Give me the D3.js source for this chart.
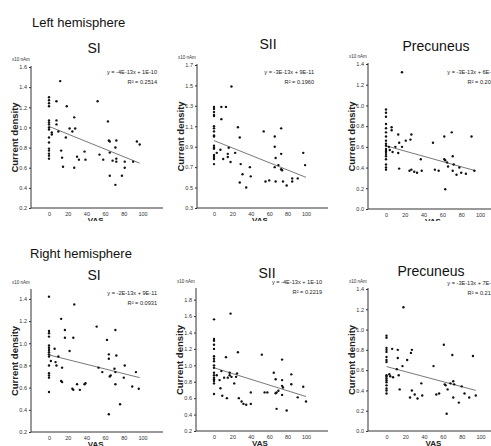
<!DOCTYPE html>
<html>
<head>
<meta charset="utf-8">
<script src="https://cdn.jsdelivr.net/npm/d3@7"></script>
<style>
  body { margin: 0; background: #fff; }
  svg { display: block; font-family: "Liberation Sans", Arial, sans-serif; }
</style>
</head>
<body>
<script>
// values (VAS, current density x10 nAm)
const leftSI = [
  [0,1.30],[0,1.27],[0,1.24],[0,1.21],[0,1.07],[0,1.05],[0,1.03],[0,1.00],[0,0.98],
  [0,0.90],[0,0.85],[0,0.79],[0,0.77],[0,0.74],[0,0.72],[0,0.69],[3,0.95],[3,0.93],
  [8,1.26],[8,1.07],[8,1.03],[10,0.96],[12,1.46],[13,0.77],[14,0.70],[15,0.61],
  [18,0.90],[19,1.21],[22,0.99],[25,0.96],[27,1.10],[28,0.99],[27,0.60],[30,0.71],
  [32,0.68],[38,0.76],[39,0.68],[52,1.26],[54,0.73],[58,0.68],[63,1.06],[64,0.87],
  [65,0.86],[65,0.75],[65,0.52],[68,0.67],[71,0.80],[72,0.87],[72,0.69],[72,0.66],
  [71,0.43],[78,0.52],[81,0.66],[81,0.60],[90,0.66],[94,0.86],[97,0.83]
];
const leftSII = [
  [0,1.29],[0,1.27],[0,1.24],[0,1.21],[0,1.20],[0,1.10],[0,1.08],[0,1.05],[0,1.01],
  [0,1.00],[0,0.91],[0,0.89],[0,0.88],[0,0.82],[0,0.80],[0,0.78],[0,0.73],[3,0.84],
  [7,0.87],[8,1.29],[8,1.17],[10,0.78],[13,1.29],[15,0.80],[15,0.83],[16,0.89],
  [18,0.75],[19,1.49],[23,0.84],[26,1.09],[28,0.99],[29,0.73],[28,0.55],[31,0.63],
  [35,0.50],[39,0.70],[40,0.61],[54,1.05],[56,0.56],[60,0.57],[66,1.00],[66,0.90],
  [67,0.79],[66,0.70],[67,0.56],[70,0.72],[73,1.08],[73,0.83],[73,0.68],[74,0.67],
  [75,0.56],[79,0.52],[85,0.59],[85,0.56],[91,0.59],[97,0.84],[99,0.72]
];
const leftPrec = [
  [0,0.96],[0,0.93],[0,0.89],[0,0.82],[0,0.78],[0,0.74],[0,0.70],[0,0.66],[0,0.63],
  [0,0.61],[0,0.58],[0,0.56],[0,0.55],[0,0.53],[0,0.51],[0,0.48],[0,0.43],[0,0.40],
  [0,0.38],[3,0.60],[4,0.57],[6,0.79],[6,0.76],[7,0.55],[10,0.60],[13,0.72],[14,0.64],
  [13,0.54],[14,0.39],[17,1.32],[17,0.60],[21,0.66],[26,0.67],[27,0.72],[25,0.37],
  [27,0.38],[30,0.36],[33,0.35],[37,0.48],[38,0.37],[50,0.64],[52,0.38],[56,0.37],
  [62,0.70],[62,0.48],[63,0.47],[63,0.19],[65,0.45],[66,0.41],[70,0.74],[71,0.51],
  [71,0.37],[72,0.43],[75,0.33],[78,0.40],[80,0.35],[85,0.34],[91,0.70],[94,0.37]
];
const rightSI = [
  [0,1.42],[0,1.11],[0,1.09],[0,1.06],[0,0.98],[0,0.96],[0,0.94],[0,0.92],[0,0.90],
  [0,0.88],[0,0.80],[0,0.73],[0,0.71],[0,0.69],[0,0.56],[2,0.84],[6,0.95],[7,0.83],
  [8,0.80],[10,0.88],[13,1.22],[14,0.78],[13,0.66],[14,0.65],[17,1.12],[17,1.05],
  [22,0.93],[25,0.59],[26,0.58],[26,1.05],[27,1.35],[30,0.63],[33,0.58],[38,0.63],
  [39,0.64],[51,1.15],[53,0.78],[57,0.74],[62,1.03],[64,0.86],[64,0.90],[65,0.70],
  [66,0.71],[64,0.36],[71,1.12],[72,0.89],[70,0.77],[71,0.74],[71,0.63],[76,0.45],
  [81,0.80],[80,0.69],[89,0.61],[93,0.74],[96,0.59]
];
const rightSII = [
  [0,1.56],[0,1.32],[0,1.30],[0,1.25],[0,1.20],[0,1.11],[0,1.08],[0,1.05],[0,1.00],
  [0,0.97],[0,0.91],[0,0.88],[0,0.85],[0,0.83],[0,0.81],[0,0.78],[0,0.65],[3,0.88],
  [6,0.82],[8,0.93],[7,0.72],[9,0.63],[11,0.85],[13,1.10],[14,0.60],[15,0.85],
  [17,0.91],[17,0.88],[19,0.86],[18,1.63],[22,0.78],[24,0.86],[25,0.90],[26,1.16],
  [27,0.60],[30,0.56],[32,0.53],[35,0.52],[40,0.67],[40,0.53],[52,1.13],[55,0.67],
  [58,0.67],[65,0.91],[67,0.83],[67,0.66],[68,0.47],[68,0.67],[70,0.69],[74,1.07],
  [74,0.82],[74,0.75],[75,0.73],[74,0.64],[79,0.45],[84,0.89],[84,0.77],[91,0.61],
  [97,0.74],[100,0.56]
];
const rightPrec = [
  [0,0.94],[0,0.92],[0,0.82],[0,0.80],[0,0.78],[0,0.73],[0,0.70],[0,0.68],[0,0.55],
  [0,0.54],[0,0.52],[0,0.50],[0,0.48],[0,0.45],[0,0.42],[0,0.40],[0,0.37],[3,0.56],
  [4,0.54],[6,0.81],[7,0.53],[11,0.61],[12,0.80],[12,0.72],[13,0.55],[14,0.41],
  [17,0.64],[18,1.22],[22,0.70],[26,0.77],[27,0.80],[25,0.33],[27,0.40],[30,0.36],
  [33,0.32],[37,0.47],[38,0.35],[50,0.64],[53,0.36],[56,0.37],[61,0.85],[62,0.46],
  [63,0.45],[64,0.17],[65,0.41],[68,0.47],[70,0.75],[71,0.49],[72,0.46],[71,0.33],
  [77,0.28],[80,0.44],[83,0.37],[88,0.33],[92,0.74],[95,0.35]
];

// trend line end points
const fitLeftSI = [[0,1.01],[97,0.645]];
const fitLeftSII = [[0,0.96],[100,0.60]];
const fitLeftPrec = [[0,0.61],[95,0.37]];
const fitRightSI = [[0,0.895],[97,0.69]];
const fitRightSII = [[0,0.97],[100,0.62]];
const fitRightPrec = [[0,0.635],[95,0.40]];

const xTicks = [0, 20, 40, 60, 80, 100];
const yTicksA = [0.2, 0.4, 0.6, 0.8, 1.0, 1.2, 1.4, 1.6];
const yTicksB = [0.3, 0.5, 0.7, 0.9, 1.1, 1.3, 1.5, 1.7];
const yTicksC = [0.0, 0.2, 0.4, 0.6, 0.8, 1.0, 1.2, 1.4];
const yTicksD = [0.2, 0.4, 0.6, 0.8, 1.0, 1.2, 1.4];
const yTicksE = [0.2, 0.4, 0.6, 0.8, 1.0, 1.2, 1.4, 1.6, 1.8];

const width = 491;
const height = 446;

const svg = d3.select("body").append("svg")
    .attr("width", width)
    .attr("height", height);

// top row loses the bottom of "VAS"
svg.append("clipPath").attr("id", "topclip")
  .append("rect").attr("x", 0).attr("y", 0).attr("width", width).attr("height", 221);

svg.append("text").attr("x", 32).attr("y", 27)
    .attr("font-size", 13).attr("fill", "#111").text("Left hemisphere");
svg.append("text").attr("x", 30).attr("y", 258)
    .attr("font-size", 13).attr("fill", "#111").text("Right hemisphere");

const panels = [
  { title: "SI", data: leftSI, fit: fitLeftSI, eq: "y = -4E-13x + 1E-10", r2: "R² = 0.2514",
    ax: 31, xr: [49, 142.5], xEnd: 163, yd: [0.2, 1.6], yr: [208, 67], ticks: yTicksA,
    tx: 94, ty: 53, eqX: 157, eqY: 74, top: true },
  { title: "SII", data: leftSII, fit: fitLeftSII, eq: "y = -3E-13x + 9E-11", r2: "R² = 0.1960",
    ax: 197, xr: [214, 306], xEnd: 328, yd: [0.3, 1.7], yr: [208, 65], ticks: yTicksB,
    tx: 268, ty: 49, eqX: 314, eqY: 74, top: true },
  { title: "Precuneus", data: leftPrec, fit: fitLeftPrec, eq: "y = -3E-13x + 6E-11", r2: "R² = 0.2064",
    ax: 368, xr: [386, 480], xEnd: 510, yd: [0, 1.4], yr: [209, 64], ticks: yTicksC,
    tx: 436, ty: 51, eqX: 497, eqY: 74, top: true },
  { title: "SI", data: rightSI, fit: fitRightSI, eq: "y = -2E-13x + 9E-11", r2: "R² = 0.0931",
    ax: 31, xr: [49, 142.5], xEnd: 163, yd: [0.2, 1.48], yr: [432, 290], ticks: yTicksD,
    tx: 94, ty: 280, eqX: 157, eqY: 295, top: false },
  { title: "SII", data: rightSII, fit: fitRightSII, eq: "y = -4E-13x + 1E-10", r2: "R² = 0.2219",
    ax: 196, xr: [214, 306], xEnd: 328, yd: [0.2, 1.93], yr: [431, 289], ticks: yTicksE,
    tx: 267, ty: 278, eqX: 322, eqY: 284, top: false },
  { title: "Precuneus", data: rightPrec, fit: fitRightPrec, eq: "y = -3E-13x + 7E-11", r2: "R² = 0.2179",
    ax: 368, xr: [386.5, 480.5], xEnd: 510, yd: [0, 1.4], yr: [431, 289], ticks: yTicksC,
    tx: 431, ty: 276, eqX: 497, eqY: 285, top: false }
];

panels.forEach((p) => {
  const g = svg.append("g");
  if (p.top) g.attr("clip-path", "url(#topclip)");

  const x = d3.scaleLinear().domain([0, 100]).range(p.xr);
  const y = d3.scaleLinear().domain(p.yd).range(p.yr);
  const base = p.yr[0];

  g.append("text").attr("x", p.tx).attr("y", p.ty)
      .attr("text-anchor", "middle").attr("font-size", 14).attr("fill", "#111")
      .text(p.title);

  // y axis
  const yAxis = d3.axisLeft(y).tickValues(p.ticks).tickSize(2).tickPadding(2)
      .tickFormat(d3.format(".1f"));
  const ya = g.append("g").attr("transform", `translate(${p.ax},0)`).call(yAxis);
  ya.select(".domain").remove();
  ya.selectAll("line").attr("stroke", "#333");
  ya.selectAll("text").attr("font-size", 5.5).attr("fill", "#333")
      .attr("font-family", "Liberation Sans, Arial, sans-serif");
  g.append("line").attr("x1", p.ax).attr("x2", p.ax)
      .attr("y1", base).attr("y2", p.yr[1] - 1)
      .attr("stroke", "#333").attr("stroke-width", 1);

  // x axis
  const xAxis = d3.axisBottom(x).tickValues(xTicks).tickSize(0).tickPadding(4);
  const xa = g.append("g").attr("transform", `translate(0,${base})`).call(xAxis);
  xa.select(".domain").remove();
  xa.selectAll("text").attr("font-size", 5.5).attr("fill", "#333")
      .attr("font-family", "Liberation Sans, Arial, sans-serif");
  g.append("line").attr("x1", p.ax).attr("x2", p.xEnd)
      .attr("y1", base).attr("y2", base)
      .attr("stroke", "#333").attr("stroke-width", 1);

  g.append("text").attr("x", p.ax - 10).attr("y", p.yr[1] - 6)
      .attr("text-anchor", "middle").attr("font-size", 4.5).attr("fill", "#333")
      .text("x10 nAm");

  g.append("text")
      .attr("transform", `translate(${p.ax - 13},${(p.yr[0] + p.yr[1]) / 2}) rotate(-90)`)
      .attr("text-anchor", "middle").attr("font-size", 9.5).attr("font-weight", "bold")
      .attr("fill", "#222").text("Current density");

  g.append("text").attr("x", x(50)).attr("y", base + 15)
      .attr("text-anchor", "middle").attr("font-size", 8).attr("font-weight", "bold")
      .attr("fill", "#222").text("VAS");

  // trend line
  g.append("line")
      .attr("x1", x(p.fit[0][0])).attr("y1", y(p.fit[0][1]))
      .attr("x2", x(p.fit[1][0])).attr("y2", y(p.fit[1][1]))
      .attr("stroke", "#555").attr("stroke-width", 0.8);

  g.selectAll("circle.pt").data(p.data).join("circle")
      .attr("class", "pt")
      .attr("cx", (d) => x(d[0]))
      .attr("cy", (d) => y(d[1]))
      .attr("r", 1.2)
      .attr("fill", "#111");

  g.append("text").attr("x", p.eqX).attr("y", p.eqY)
      .attr("text-anchor", "end").attr("font-size", 5.6).attr("fill", "#222")
      .text(p.eq);
  g.append("text").attr("x", p.eqX).attr("y", p.eqY + 10)
      .attr("text-anchor", "end").attr("font-size", 5.6).attr("fill", "#222")
      .text(p.r2);
});
</script>
</body>
</html>
